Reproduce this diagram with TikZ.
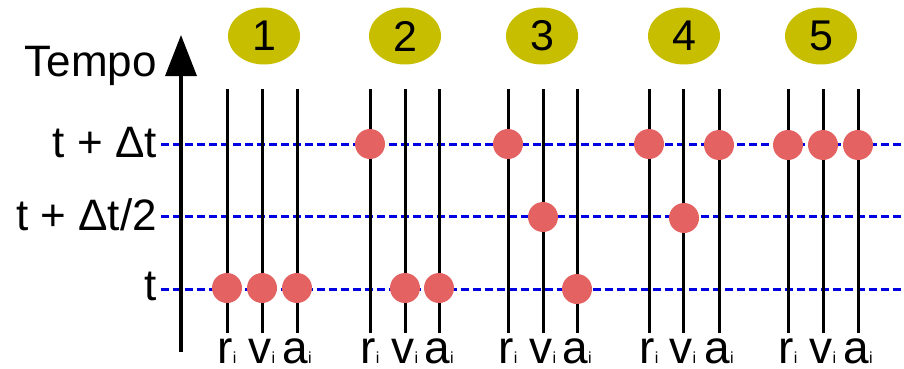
\documentclass[tikz,border=0pt]{standalone}
\usepackage{fontspec}
\setmainfont{Liberation Sans}
\usetikzlibrary{arrows.meta,shapes.geometric}
\definecolor{dotred}{RGB}{229,98,98}
\definecolor{stageolive}{RGB}{200,190,0}
\definecolor{dashblue}{RGB}{0,0,225}
\newcommand\smallidx[1]{{\fontsize{16}{16}\selectfont #1}}
\begin{document}
\begin{tikzpicture}[x=1pt,y=-1pt,
  timeline/.style={line width=3pt, black},
  axisline/.style={line width=3.5pt, black},
  level/.style={dashblue, line width=3pt, dash pattern=on 8pt off 4pt},
  state/.style={circle, fill=dotred, minimum size=30pt, inner sep=0pt},
  stagelabel/.style={ellipse, fill=stageolive, minimum width=72pt, minimum height=57pt, inner sep=0pt, font=\fontsize{43}{43}\selectfont},
  varlabel/.style={anchor=base, inner sep=0pt, font=\fontsize{46}{46}\selectfont},
  levellabel/.style={anchor=base east, inner sep=0pt, font=\fontsize{44}{44}\selectfont}]
\useasboundingbox (0,0) rectangle (904,369);

% dashed time levels
\coordinate (L1s) at (161,144); \coordinate (L1e) at (904,144);
\coordinate (L2s) at (161,216); \coordinate (L2e) at (904,216);
\coordinate (L3s) at (161,289); \coordinate (L3e) at (904,289);
\draw[level] (L1s) -- (L1e);
\draw[level] (L2s) -- (L2e);
\draw[level] (L3s) -- (L3e);

% time axis
\coordinate (axbot) at (181,352);
\coordinate (axtop) at (181,35);
\draw[axisline,-{Triangle[width=31pt,length=41pt]}] (axbot) -- (axtop);

% level labels
\node[levellabel] (tempo) at (157,77) {Tempo};
\node[levellabel] (lvlA) at (157,157) {t + Δt};
\node[levellabel] (lvlB) at (157,230) {t + Δt/2};
\node[levellabel] (lvlC) at (157,300) {t};

% variable timelines and labels
\foreach \n/\l/\x in {r1/r/227, v1/v/262, a1/a/297,
                      r2/r/370, v2/v/405, a2/a/439,
                      r3/r/508, v3/v/543, a3/a/577,
                      r4/r/649, v4/v/683, a4/a/719,
                      r5/r/788, v5/v/823, a5/a/858} {
  \coordinate (\n top) at (\x,89);
  \coordinate (\n bot) at (\x,333);
  \draw[timeline] (\n top) -- (\n bot);
  \node[varlabel] (\n lab) at (\x,363) {\l\smallidx{i}};
}

% stage numbers
\node[stagelabel] (s1) at (264,36) {1};
\node[stagelabel] (s2) at (405,36) {2};
\node[stagelabel] (s3) at (542,36) {3};
\node[stagelabel] (s4) at (684,36) {4};
\node[stagelabel] (s5) at (821,36) {5};

% states
\node[state] (dr1) at (227,288) {};
\node[state] (dv1) at (262,288) {};
\node[state] (da1) at (297,288) {};
\node[state] (dr2) at (370,144) {};
\node[state] (dv2) at (405,288) {};
\node[state] (da2) at (439,288) {};
\node[state] (dr3) at (508,144) {};
\node[state] (dv3) at (543,217) {};
\node[state] (da3) at (577,289) {};
\node[state] (dr4) at (649,144) {};
\node[state] (dv4) at (684,218) {};
\node[state] (da4) at (719,145) {};
\node[state] (dr5) at (788,145) {};
\node[state] (dv5) at (823,145) {};
\node[state] (da5) at (858,145) {};
\end{tikzpicture}
\end{document}
